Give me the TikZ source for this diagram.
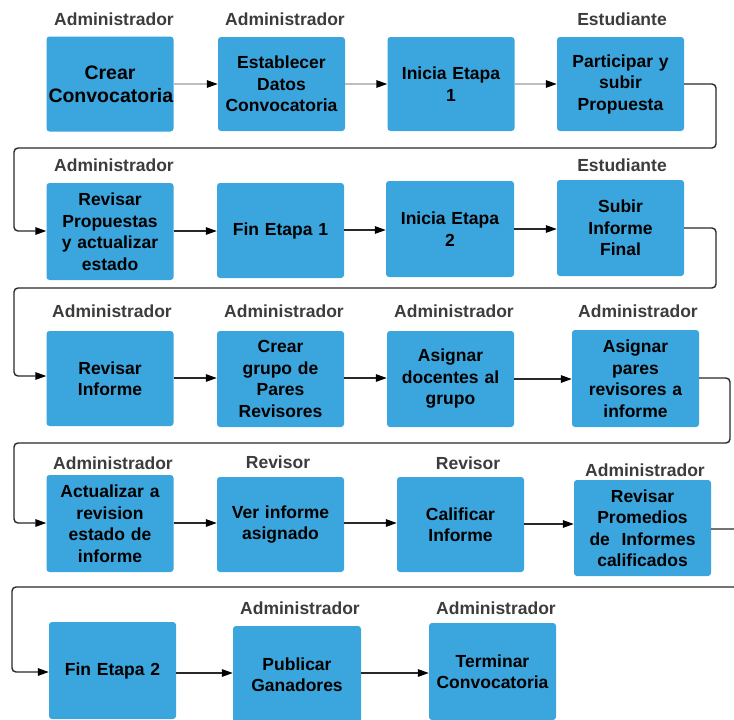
\documentclass[tikz,border=0pt]{standalone}
\usepackage{fontspec}
\setmainfont{Liberation Sans}
\usetikzlibrary{arrows.meta}
\definecolor{boxblue}{RGB}{59,165,221}
\definecolor{labgray}{RGB}{60,60,60}
\definecolor{linedark}{RGB}{40,40,40}
\definecolor{linelight}{RGB}{190,190,190}
\tikzset{
  stepbox/.style={fill=boxblue, rounded corners=3pt, minimum width=127pt, minimum height=95pt,
    inner sep=2pt, align=center, text width=123pt, font=\fontsize{17.5}{21.5}\selectfont\bfseries, text=black},
  lab/.style={font=\fontsize{17.5}{21}\selectfont\bfseries, text=labgray, inner sep=0pt},
  tip/.style={-{Triangle[length=11pt,width=7.5pt,color=black]}},
  flow/.style={tip, draw=linedark, line width=1.4pt},
  flowlight/.style={tip, draw=linelight, line width=1.4pt},
  loop/.style={tip, draw=linedark, line width=1.4pt, rounded corners=4pt}
}
\begin{document}
\begin{tikzpicture}[x=1pt,y=-1pt]
\useasboundingbox (0,0) rectangle (734,720);
% row 1
\node[stepbox, minimum width=126pt, font=\fontsize{19.5}{23}\selectfont\bfseries] (n1) at (110,84) {Crear\\Convocatoria};
\node[stepbox, minimum height=94pt] (n2) at (281.5,84) {Establecer\\Datos\\Convocatoria};
\node[stepbox, minimum height=94pt, minimum width=126pt] (n3) at (451,84) {Inicia Etapa\\1};
\node[stepbox, minimum height=94pt] (n4) at (620.5,84) {Participar y\\subir\\Propuesta};
% row 2
\node[stepbox, minimum width=126pt, minimum height=97pt] (n5) at (110,231.5) {Revisar\\Propuestas\\y actualizar\\estado};
\node[stepbox] (n6) at (280.5,230.5) {Fin Etapa 1};
\node[stepbox, minimum width=128pt, minimum height=96pt] (n7) at (450,229) {Inicia Etapa\\2};
\node[stepbox, minimum height=96pt] (n8) at (620.5,228) {Subir\\Informe\\Final};
% row 3
\node[stepbox, minimum width=126pt] (n9) at (110,378.5) {Revisar\\Informe};
\node[stepbox, minimum height=96pt] (n10) at (280.5,379) {Crear\\grupo de\\Pares\\Revisores};
\node[stepbox, minimum height=96pt] (n11) at (450.5,379) {Asignar\\docentes al\\grupo};
\node[stepbox, minimum height=97pt] (n12) at (635.5,378.5) {Asignar\\pares\\revisores a\\informe};
% row 4
\node[stepbox, minimum width=126pt, minimum height=97pt] (n13) at (110,523.5) {Actualizar a\\revision\\estado de\\informe};
\node[stepbox] (n14) at (280.5,524.5) {Ver informe\\asignado};
\node[stepbox] (n15) at (460.5,524.5) {Calificar\\Informe};
\node[stepbox, minimum width=137pt, text width=133pt, minimum height=96pt] (n16) at (642.5,528) {Revisar\\Promedios\\de\ \ Informes\\calificados};
% row 5
\node[stepbox, minimum height=97pt] (n17) at (112.5,670.5) {Fin Etapa 2};
\node[stepbox, minimum width=128pt, minimum height=97pt] (n18) at (297,674.5) {Publicar\\Ganadores};
\node[stepbox, minimum height=97pt] (n19) at (492.5,671.5) {Terminar\\Convocatoria};
% labels
\node[lab] (l1) at (114,19) {Administrador};
\node[lab] (l2) at (285,19) {Administrador};
\node[lab] (l4) at (622,19) {Estudiante};
\node[lab] (l5) at (114,165) {Administrador};
\node[lab] (l8) at (622,165) {Estudiante};
\node[lab] (l9) at (112,311) {Administrador};
\node[lab] (l10) at (284,311) {Administrador};
\node[lab] (l11) at (454,311) {Administrador};
\node[lab] (l12) at (638,311) {Administrador};
\node[lab] (l13) at (113,463) {Administrador};
\node[lab] (l14) at (278,462) {Revisor};
\node[lab] (l15) at (468,463) {Revisor};
\node[lab] (l16) at (645,470) {Administrador};
\node[lab] (l18) at (300,608) {Administrador};
\node[lab] (l19) at (496,608) {Administrador};
% row 1 connectors
\draw[flowlight] (n1.east |- 0,84) -- (n2.west |- 0,84);
\draw[flowlight] (n2.east |- 0,84) -- (n3.west |- 0,84);
\draw[flowlight] (n3.east |- 0,84) -- (n4.west |- 0,84);
\draw[loop] (n4.east |- 0,84) -- (716,84) -- (716,148) -- (14,148) -- (14,231) -- (n5.west |- 0,231);
% row 2
\draw[flow] (n5.east |- 0,231) -- (n6.west |- 0,231);
\draw[flow] (n6.east |- 0,230) -- (n7.west |- 0,230);
\draw[flow] (n7.east |- 0,229) -- (n8.west |- 0,229);
\draw[loop] (n8.east |- 0,228) -- (716,228) -- (716,288) -- (14,288) -- (14,376) -- (n9.west |- 0,376);
% row 3
\draw[flow] (n9.east |- 0,378) -- (n10.west |- 0,378);
\draw[flow] (n10.east |- 0,378) -- (n11.west |- 0,378);
\draw[flow] (n11.east |- 0,379) -- (n12.west |- 0,379);
\draw[loop] (n12.east |- 0,378) -- (730,378) -- (730,443) -- (14,443) -- (14,523) -- (n13.west |- 0,523);
% row 4
\draw[flow] (n13.east |- 0,523) -- (n14.west |- 0,523);
\draw[flow] (n14.east |- 0,523) -- (n15.west |- 0,523);
\draw[flow] (n15.east |- 0,524) -- (n16.west |- 0,524);
\draw[loop] (n16.east |- 0,529) -- (750,529) -- (750,587) -- (12,587) -- (12,672) -- (n17.west |- 0,672);
% row 5
\draw[flow] (n17.east |- 0,673) -- (n18.west |- 0,673);
\draw[flow] (n18.east |- 0,673) -- (n19.west |- 0,673);
\end{tikzpicture}
\end{document}
